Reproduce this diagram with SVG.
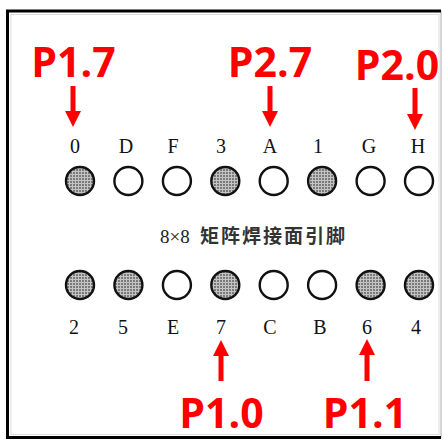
<svg xmlns="http://www.w3.org/2000/svg" width="443" height="441" viewBox="0 0 443 441">
<style>
.lbl{font-family:"Liberation Serif","Times New Roman",serif;font-size:20px;fill:#111;text-anchor:middle}
.red{font-family:"Open Sans","Noto Sans",sans-serif;font-weight:bold;font-size:41px;fill:#ff0000;text-anchor:middle}
.pin{stroke:#111;stroke-width:2.4}
.open{fill:#fff}
.full{fill:url(#mesh)}
.arr{stroke:#ff0000;stroke-width:5;fill:none}
.head{fill:#ff0000}
</style>
<defs>
<pattern id="mesh" width="3" height="3" patternUnits="userSpaceOnUse">
<rect width="3" height="3" fill="#7a7a7a"/>
<path d="M0 0.5H3M0.5 0V3" stroke="#c4c4c4" stroke-width="1"/>
</pattern>
</defs>
<rect width="443" height="441" fill="#fff"/>
<g id="frame">
<rect x="11" y="14.5" width="428" height="420" fill="none" stroke="#ddd" stroke-width="1"/>
<path d="M441 11V438" stroke="#bbb" stroke-width="1.2"/>
<path d="M441 11H7.5V437.5H441" fill="none" stroke="#000" stroke-width="3"/>
</g>
<g id="top-row">
<g id="pin-0"><circle class="pin full" cx="80" cy="181" r="14"/><text class="lbl" x="75" y="153">0</text></g>
<g id="pin-D"><circle class="pin open" cx="128.4" cy="181" r="14"/><text class="lbl" x="126" y="153">D</text></g>
<g id="pin-F"><circle class="pin open" cx="176.9" cy="181" r="14"/><text class="lbl" x="173" y="153">F</text></g>
<g id="pin-3"><circle class="pin full" cx="225.3" cy="181" r="14"/><text class="lbl" x="221" y="153">3</text></g>
<g id="pin-A"><circle class="pin open" cx="273.7" cy="181" r="14"/><text class="lbl" x="270" y="153">A</text></g>
<g id="pin-1"><circle class="pin full" cx="322.1" cy="181" r="14"/><text class="lbl" x="318" y="153">1</text></g>
<g id="pin-G"><circle class="pin open" cx="370.6" cy="181" r="14"/><text class="lbl" x="369" y="153">G</text></g>
<g id="pin-H"><circle class="pin open" cx="419" cy="181" r="14"/><text class="lbl" x="418" y="153">H</text></g>
</g>
<g id="title">
<text x="160" y="243" font-family="'Liberation Serif',serif" font-size="19" fill="#222">8×8</text>
<text x="200" y="243" font-family="'Noto Sans CJK SC',sans-serif" font-size="19" font-weight="bold" letter-spacing="2" fill="#333">矩阵焊接面引脚</text>
</g>
<g id="bottom-row">
<g id="pin-2"><circle class="pin full" cx="80" cy="285" r="14"/><text class="lbl" x="74" y="334">2</text></g>
<g id="pin-5"><circle class="pin full" cx="128.4" cy="285" r="14"/><text class="lbl" x="123" y="334">5</text></g>
<g id="pin-E"><circle class="pin open" cx="176.9" cy="285" r="14"/><text class="lbl" x="173" y="334">E</text></g>
<g id="pin-7"><circle class="pin full" cx="225.3" cy="285" r="14"/><text class="lbl" x="221" y="334">7</text></g>
<g id="pin-C"><circle class="pin open" cx="273.7" cy="285" r="14"/><text class="lbl" x="270" y="334">C</text></g>
<g id="pin-B"><circle class="pin open" cx="322.1" cy="285" r="14"/><text class="lbl" x="320" y="334">B</text></g>
<g id="pin-6"><circle class="pin full" cx="370.6" cy="285" r="14"/><text class="lbl" x="367" y="334">6</text></g>
<g id="pin-4"><circle class="pin full" cx="419" cy="285" r="14"/><text class="lbl" x="416" y="334">4</text></g>
</g>
<g id="port-labels">
<g id="P1.7"><text class="red" x="73.5" y="77">P1.7</text></g>
<g id="P2.7"><text class="red" x="270" y="77">P2.7</text></g>
<g id="P2.0"><text class="red" x="397" y="80">P2.0</text></g>
<g id="P1.0"><text class="red" x="221.5" y="428">P1.0</text></g>
<g id="P1.1"><text class="red" x="365" y="428">P1.1</text></g>
</g>
<g id="connectors">
<path class="arr" d="M73 86V113"/><path class="head" d="M65 111H81L73 127Z"/>
<path class="arr" d="M270 86V113"/><path class="head" d="M262 111H278L270 127Z"/>
<path class="arr" d="M415 88V116"/><path class="head" d="M407 114H423L415 130Z"/>
<path class="arr" d="M221 381V354"/><path class="head" d="M213 356H229L221 340Z"/>
<path class="arr" d="M367 381V353"/><path class="head" d="M359 355H375L367 339Z"/>
</g>
</svg>
